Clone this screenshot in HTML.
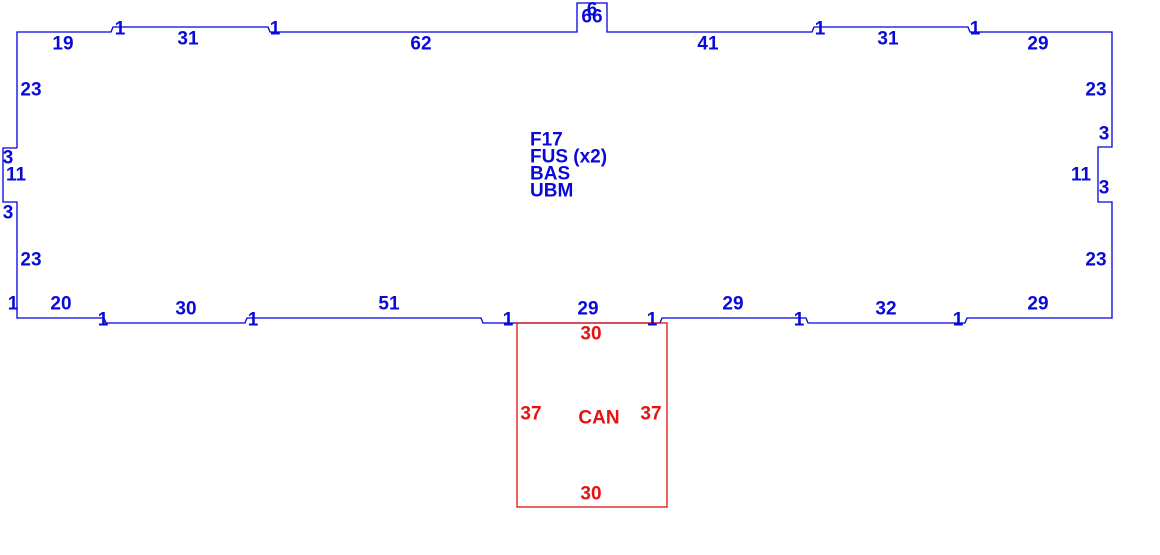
<!DOCTYPE html>
<html><head><meta charset="utf-8"><style>
html,body{margin:0;padding:0;background:#fff;width:1160px;height:555px;overflow:hidden}
text{font-family:"Liberation Sans",Arial,sans-serif;font-weight:bold;font-size:19px;dominant-baseline:central;text-anchor:middle}
.b{fill:#0a0ad8}.r{fill:#e81010}
</style></head><body>
<svg width="1160" height="555" xmlns="http://www.w3.org/2000/svg">
<polyline fill="none" stroke="#0000e0" stroke-width="1.3" points="17,148 17,32 111,32 113,27 268,27 270,32 577,32 577,3 607,3 607,32 812,32 814,27 968,27 970,32 1112,32 1112,147 1098,147 1098,202 1112,202 1112,318 967,318 965,323 808,323 806,318 662,318 660,323 483,323 481,318 247,318 245,323 106,323 104,318 17,318 17,202 3,202 3,148 17,148"/>
<rect x="517" y="323" width="150" height="184" fill="none" stroke="#e01010" stroke-width="1.3"/>
<g class="b">
<text x="63" y="44">19</text><text x="120" y="29">1</text><text x="188" y="39">31</text><text x="275" y="29">1</text><text x="421" y="44">62</text>
<text x="592" y="10">6</text><text x="592" y="17">66</text>
<text x="708" y="44">41</text><text x="820" y="29">1</text><text x="888" y="39">31</text><text x="975" y="29">1</text><text x="1038" y="44">29</text>
<text x="31" y="90">23</text><text x="8" y="158">3</text><text x="16" y="175">11</text><text x="8" y="213">3</text><text x="31" y="260">23</text><text x="13" y="304">1</text>
<text x="1096" y="90">23</text><text x="1104" y="134">3</text><text x="1081" y="175">11</text><text x="1104" y="188">3</text><text x="1096" y="260">23</text>
<text x="61" y="304">20</text><text x="103" y="320">1</text><text x="186" y="309">30</text><text x="253" y="320">1</text><text x="389" y="304">51</text><text x="508" y="320">1</text>
<text x="588" y="309">29</text><text x="652" y="320">1</text><text x="733" y="304">29</text><text x="799" y="320">1</text><text x="886" y="309">32</text><text x="958" y="320">1</text><text x="1038" y="304">29</text>
<text x="530" y="140" style="text-anchor:start">F17</text>
<text x="530" y="157" style="text-anchor:start">FUS (x2)</text>
<text x="530" y="174" style="text-anchor:start">BAS</text>
<text x="530" y="191" style="text-anchor:start">UBM</text>
</g>
<g class="r">
<text x="591" y="334">30</text><text x="531" y="414">37</text><text x="599" y="418">CAN</text><text x="651" y="414">37</text><text x="591" y="494">30</text>
</g>
</svg>
</body></html>
